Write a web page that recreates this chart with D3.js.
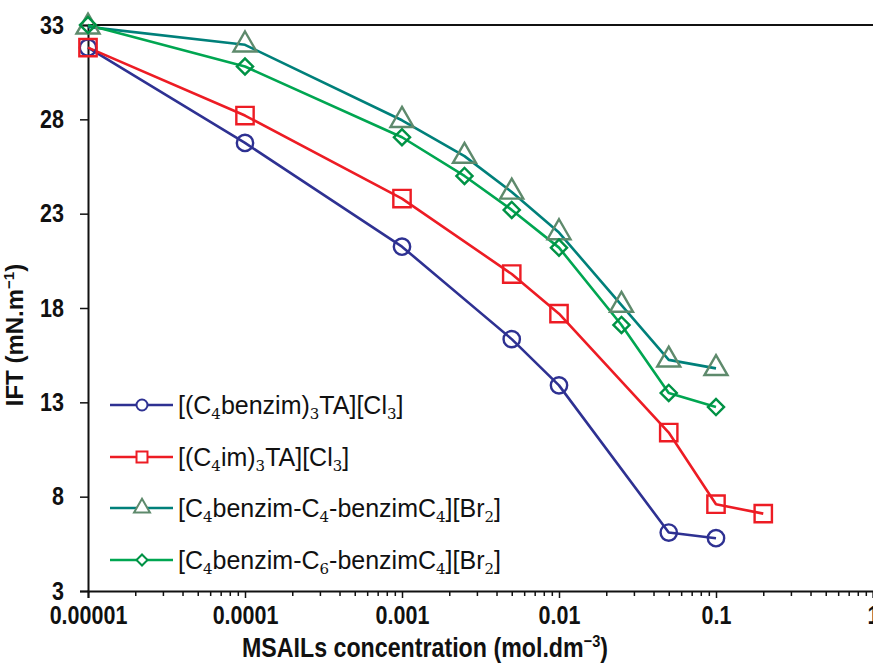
<!DOCTYPE html>
<html><head><meta charset="utf-8">
<script src="https://cdn.jsdelivr.net/npm/d3@7"></script>
<style>
html,body{margin:0;padding:0;background:#fff;}
svg{display:block;}
.tick text{font-family:"Liberation Sans","Arial",sans-serif;font-weight:bold;}
</style></head>
<body><svg id="c" width="873" height="663"></svg>
<script>
const xTicks = [0.00001, 0.0001, 0.001, 0.01, 0.1, 1];
const xTickLabels = ["0.00001", "0.0001", "0.001", "0.01", "0.1", "1"];
const yTicks = [3, 8, 13, 18, 23, 28, 33];

const conc1 = [0.00001, 0.0001, 0.001, 0.005, 0.01, 0.05, 0.1];
const ift1  = [31.8, 26.75, 21.25, 16.35, 13.9, 6.1, 5.8];
const conc2 = [0.00001, 0.0001, 0.001, 0.005, 0.01, 0.05, 0.1, 0.2];
const ift2  = [31.8, 28.2, 23.8, 19.8, 17.7, 11.4, 7.6, 7.1];
const conc3 = [0.00001, 0.0001, 0.001, 0.0025, 0.005, 0.01, 0.025, 0.05, 0.1];
const ift3  = [32.9, 31.95, 27.95, 26.05, 24.15, 22.0, 18.15, 15.25, 14.8];
const conc4 = [0.00001, 0.0001, 0.001, 0.0025, 0.005, 0.01, 0.025, 0.05, 0.1];
const ift4  = [33.0, 30.8, 27.05, 25.0, 23.2, 21.2, 17.1, 13.5, 12.75];

const seriesNames = [
  [["[(C"],["4","sub"],["benzim)"],["3","sub"],["TA][Cl"],["3","sub"],["]"]],
  [["[(C"],["4","sub"],["im)"],["3","sub"],["TA][Cl"],["3","sub"],["]"]],
  [["[C"],["4","sub"],["benzim-C"],["4","sub"],["-benzimC"],["4","sub"],["][Br"],["2","sub"],["]"]],
  [["[C"],["4","sub"],["benzim-C"],["6","sub"],["-benzimC"],["4","sub"],["][Br"],["2","sub"],["]"]]
];

const series = [
  {x: conc1, y: ift1, line: "#2e3192", mark: "#2e3192", sym: "circle"},
  {x: conc2, y: ift2, line: "#ed1c24", mark: "#ed1c24", sym: "square"},
  {x: conc3, y: ift3, line: "#00807a", mark: "#5e8a6c", sym: "triangle"},
  {x: conc4, y: ift4, line: "#00a651", mark: "#009245", sym: "diamond"}
];

const svg = d3.select("#c");
const L = 88, R = 873, T = 25, B = 591;
const x = d3.scaleLog().domain([0.00001, 1]).range([L, R]);
const y = d3.scaleLinear().domain([3, 33]).range([B, T]);
const SQ = 0.86;

// top border
svg.append("line").attr("x1", L).attr("x2", R).attr("y1", T).attr("y2", T)
  .attr("stroke", "#111").attr("stroke-width", 2);

// y axis
const ya = svg.append("g").attr("transform", `translate(${L},0)`)
  .call(d3.axisLeft(y).tickValues(yTicks).tickSize(8).tickPadding(16).tickFormat(d3.format("d")));
ya.select(".domain").attr("stroke", "#111").attr("stroke-width", 2);
ya.selectAll(".tick line").attr("stroke", "#111").attr("stroke-width", 1.5);
ya.selectAll(".tick text").attr("font-size", 25).attr("fill", "#111")
  .attr("x", -24 / SQ).attr("transform", `scale(${SQ},1)`);

// x axis minor ticks
const minor = [];
for (let e = -5; e < 0; e++) for (let m = 2; m <= 9; m++) minor.push(m * Math.pow(10, e));
svg.append("g").attr("transform", `translate(0,${B})`)
  .call(d3.axisBottom(x).tickValues(minor).tickSize(5).tickFormat(""))
  .call(g => g.select(".domain").remove())
  .selectAll(".tick line").attr("stroke", "#111").attr("stroke-width", 1.5);

const xa = svg.append("g").attr("transform", `translate(0,${B})`)
  .call(d3.axisBottom(x).tickValues(xTicks).tickSize(7).tickPadding(8)
    .tickFormat((d, i) => xTickLabels[i]));
xa.select(".domain").attr("stroke", "#111").attr("stroke-width", 2);
xa.selectAll(".tick line").attr("stroke", "#111").attr("stroke-width", 1.5);
xa.selectAll(".tick text").attr("font-size", 25).attr("fill", "#111")
  .attr("transform", `scale(${SQ},1)`);

// axis titles
svg.append("text").attr("transform", `translate(425,657) scale(${SQ},1)`).attr("text-anchor", "middle")
  .attr("font-family", '"Liberation Sans","Arial",sans-serif')
  .attr("font-weight", "bold").attr("font-size", 27).attr("fill", "#111")
  .call(t => {
    t.append("tspan").text("MSAILs concentration (mol.dm");
    t.append("tspan").text("\u22123").attr("font-size", 17).attr("dy", -10);
    t.append("tspan").text(")").attr("dy", 10);
  });

svg.append("text").attr("transform", "translate(23,335) rotate(-90)").attr("text-anchor", "middle")
  .attr("font-family", '"Liberation Sans","Arial",sans-serif')
  .attr("font-weight", "bold").attr("font-size", 24).attr("fill", "#111")
  .call(t => {
    t.append("tspan").text("IFT (mN.m");
    t.append("tspan").text("\u22121").attr("font-size", 15).attr("dy", -9);
    t.append("tspan").text(")").attr("dy", 9);
  });

function symPath(sym, size) {
  const types = {circle: d3.symbolCircle, square: d3.symbolSquare, triangle: d3.symbolTriangle, diamond: d3.symbolSquare};
  return d3.symbol().type(types[sym]).size(size)();
}
const symSize = {circle: 210, square: 300, triangle: 230, diamond: 130};
const symRot = {circle: 0, square: 0, triangle: 0, diamond: 45};

const line = d3.line();
series.forEach(s => {
  const pts = s.x.map((cx, i) => [x(cx), y(s.y[i])]);
  svg.append("path").attr("d", line(pts)).attr("fill", "none")
    .attr("stroke", s.line).attr("stroke-width", 2.6).attr("stroke-linejoin", "round");
});
series.forEach(s => {
  const pts = s.x.map((cx, i) => [x(cx), y(s.y[i])]);
  svg.append("g").selectAll("path").data(pts).join("path")
    .attr("d", symPath(s.sym, symSize[s.sym]))
    .attr("transform", d => `translate(${d[0]},${d[1]}) rotate(${symRot[s.sym]})`)
    .attr("fill", "none").attr("stroke", s.mark).attr("stroke-width", 2.4);
});

// legend
const legY = [405, 457, 508, 560];
const legSize = {circle: 95, square: 120, triangle: 110, diamond: 60};
series.forEach((s, i) => {
  const g = svg.append("g").attr("transform", `translate(0,${legY[i]})`);
  g.append("line").attr("x1", 110).attr("x2", 173).attr("stroke", s.line).attr("stroke-width", 2.6);
  g.append("path").attr("d", symPath(s.sym, legSize[s.sym]))
    .attr("transform", `translate(142,0) rotate(${symRot[s.sym]})`)
    .attr("fill", "#fff").attr("stroke", s.mark).attr("stroke-width", 2);
  const t = g.append("text").attr("x", 178).attr("y", 9)
    .attr("font-family", '"Liberation Sans","Arial",sans-serif').attr("font-size", 25).attr("fill", "#111");
  seriesNames[i].forEach((p, j) => {
    const prevSub = j > 0 && seriesNames[i][j - 1][1] === "sub";
    if (p[1] === "sub") {
      t.append("tspan").text(p[0]).attr("font-family", '"DejaVu Serif","Liberation Serif",serif')
        .attr("font-size", 15).attr("dy", 5);
    } else {
      t.append("tspan").text(p[0]).attr("dy", prevSub ? -5 : 0);
    }
  });
});
</script></body></html>
